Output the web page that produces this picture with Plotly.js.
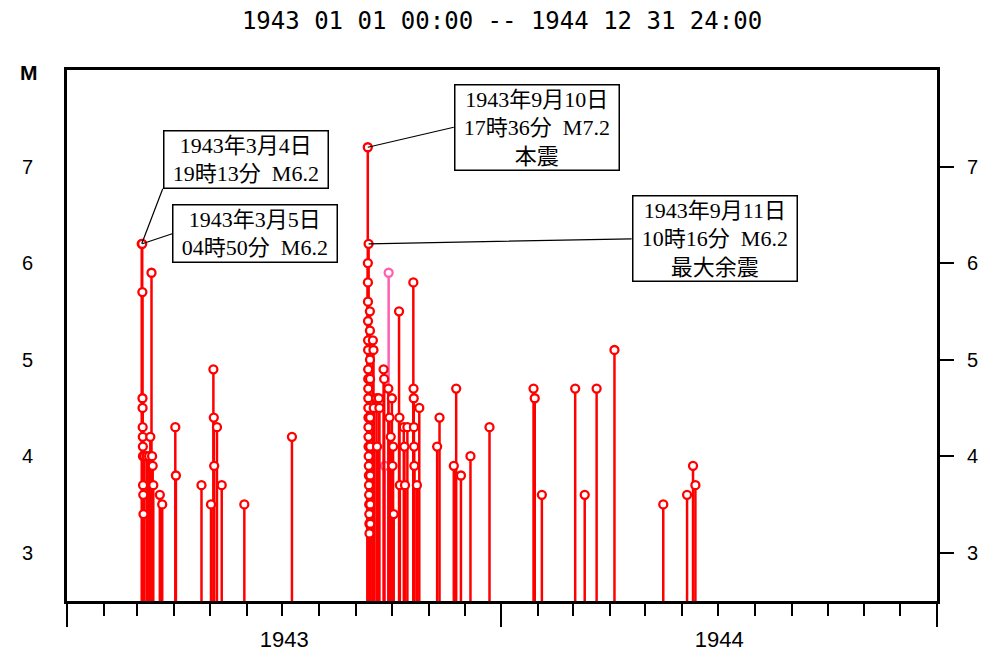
<!DOCTYPE html>
<html>
<head>
<meta charset="utf-8">
<script src="https://cdn.plot.ly/plotly-3.0.1.min.js"></script>
<style>html,body{margin:0;padding:0;background:#fff;}#chart{width:1005px;height:653px;}</style>
</head>
<body>
<div id="chart"></div>
<script>
// ---- data ----
const redDates = [
  '1943-03-04 19:13','1943-03-05 04:50','1943-03-05 08:00','1943-03-05 10:00','1943-03-05 12:00','1943-03-05 14:00',
  '1943-03-05 16:00','1943-03-05 18:00','1943-03-05 20:00','1943-03-05 22:00','1943-03-06 02:00','1943-03-06 06:00',
  '1943-03-07','1943-03-09','1943-03-11','1943-03-12','1943-03-13','1943-03-13 12:00','1943-03-14','1943-03-14 12:00',
  '1943-03-20','1943-03-22','1943-04-02','1943-04-02 12:00','1943-04-24','1943-05-02','1943-05-04','1943-05-04 08:00',
  '1943-05-04 16:00','1943-05-07','1943-05-11','1943-05-30','1943-07-09',
  '1943-09-10 17:36','1943-09-11 10:16',
  '1943-09-10 19:00','1943-09-10 20:00','1943-09-10 21:00','1943-09-10 22:00','1943-09-10 23:00','1943-09-11 00:00',
  '1943-09-11 01:00','1943-09-11 02:00','1943-09-11 03:00','1943-09-11 04:00','1943-09-11 05:00','1943-09-11 06:00',
  '1943-09-11 07:00','1943-09-11 08:00','1943-09-11 09:00','1943-09-11 12:00','1943-09-11 14:00','1943-09-11 16:00',
  '1943-09-11 18:00','1943-09-11 20:00','1943-09-11 22:00','1943-09-12 00:00','1943-09-12 02:00','1943-09-12 04:00',
  '1943-09-12 12:00','1943-09-12 13:00','1943-09-12 14:00','1943-09-12 15:00','1943-09-12 16:00','1943-09-12 17:00',
  '1943-09-12 18:00','1943-09-12 19:00','1943-09-12 20:00',
  '1943-09-15','1943-09-15 12:00','1943-09-15 18:00','1943-09-18','1943-09-18 12:00','1943-09-20','1943-09-20 12:00',
  '1943-09-24','1943-09-24 12:00','1943-09-28','1943-09-29','1943-09-30',
  '1943-10-01','1943-10-01 12:00','1943-10-02','1943-10-02 12:00','1943-10-07','1943-10-07 08:00','1943-10-07 16:00',
  '1943-10-11','1943-10-11 12:00','1943-10-12','1943-10-14','1943-10-19','1943-10-19 04:00','1943-10-19 08:00',
  '1943-10-19 12:00','1943-10-19 16:00','1943-10-19 20:00','1943-10-22','1943-10-24',
  '1943-11-08','1943-11-10','1943-11-22','1943-11-24','1943-11-28','1943-12-06','1943-12-22',
  '1944-01-28','1944-01-29','1944-02-04','1944-03-03','1944-03-11','1944-03-21','1944-04-05',
  '1944-05-16','1944-06-05','1944-06-10','1944-06-12'
];
const redMags = [
  6.2,6.2,5.7,4.6,4.5,4.3,
  4.2,4.1,4.0,3.7,3.6,3.4,
  4.0,4.0,4.0,4.2,5.9,4.0,3.9,3.7,
  3.6,3.5,4.3,3.8,3.7,3.5,4.9,4.4,
  3.9,4.3,3.7,3.5,4.2,
  7.2,6.2,
  6.0,5.8,5.6,5.4,5.2,5.1,
  4.9,4.8,4.7,4.6,4.5,4.4,
  4.3,4.2,4.1,4.0,3.9,3.8,
  3.7,3.6,3.5,3.4,3.3,3.2,
  5.5,5.3,5.0,4.8,4.4,4.1,
  3.8,3.5,3.3,
  5.2,5.1,4.5,4.6,4.1,4.6,4.5,
  4.9,4.8,4.7,4.4,4.2,
  4.6,3.9,4.1,3.4,5.5,4.4,3.7,
  4.3,4.1,3.7,4.3,5.8,4.7,4.6,
  4.3,4.1,3.9,3.7,4.5,
  4.1,4.4,3.9,4.7,3.8,4.0,4.3,
  4.7,4.6,3.6,4.7,3.6,4.7,5.1,
  3.5,3.6,3.9,3.7
];
const pinkDates = ['1943-09-12 06:00','1943-09-25','1943-09-28 06:00'];
const pinkMags = [3.8,3.9,5.9];

const annDates = ['1943-03-04 19:13','1943-03-05 04:50','1943-09-10 17:36','1943-09-11 10:16'];
const annMags = [6.2,6.2,7.2,6.2];
const annLines = [
  ['1943年3月4日','19時13分\u00a0 M6.2'],
  ['1943年3月5日','04時50分\u00a0 M6.2'],
  ['1943年9月10日','17時36分\u00a0 M7.2','本震'],
  ['1943年9月11日','10時16分\u00a0 M6.2','最大余震']
];
const yTicks = [3,4,5,6,7];
const yBase = 2.5;
const titleText = '1943 01 01 00:00 -- 1944 12 31 24:00';

// ---- styling (layout only) ----
const annOffsets = [[21,-55,'bottom'],[30,-10,'middle'],[86,-20,'middle'],[263,-5,'middle']];
const sidePad = '\u00a0\u200a';

function stemTrace(xs, ys, color){
  return {
    type:'scatter', mode:'markers', x:xs, y:ys, xaxis:'x', yaxis:'y',
    marker:{symbol:'circle', size:8, color:'white', line:{color:color, width:2.3}},
    error_y:{type:'data', symmetric:false, array:ys.map(()=>0), arrayminus:ys.map(v=>v-yBase),
             color:color, thickness:2.5, width:0},
    hoverinfo:'skip', cliponaxis:false
  };
}

const traces = [
  stemTrace(pinkDates, pinkMags, '#ff5fb0'),
  stemTrace(redDates, redMags, '#ff0000'),
  {type:'scatter', mode:'markers', x:[annDates[0]], y:[yTicks[0]], xaxis:'x', yaxis:'y2', marker:{opacity:0}, hoverinfo:'skip'}
];

const tickFont = {family:'Liberation Sans, Arial, sans-serif', size:20, color:'black'};
const annFont = {family:'Liberation Serif, "Noto Sans CJK JP", serif', size:22, color:'black'};

const layout = {
  width:1005, height:653,
  margin:{l:67, r:68, t:70, b:52},
  paper_bgcolor:'white', plot_bgcolor:'white',
  showlegend:false,
  title:{text:titleText, font:{family:'DejaVu Sans Mono, monospace', size:24, color:'black'},
         x:0.5, xref:'paper', xanchor:'center', y:1-21/653, yref:'container', yanchor:'middle'},
  xaxis:{type:'date', range:['1943-01-01','1945-01-01'], tick0:'1943-01-01', dtick:'M12',
         ticklabelmode:'period', tickformat:'%Y', ticks:'outside', ticklen:23, tickwidth:2, tickcolor:'black',
         minor:{dtick:'M1', tick0:'1943-01-01', ticks:'outside', ticklen:12, tickwidth:2, tickcolor:'black', showgrid:false},
         showgrid:false, zeroline:false, showline:true, linewidth:3, linecolor:'black', mirror:true, automargin:false,
         tickfont:{family:'Liberation Sans, Arial, sans-serif', size:22, color:'black'}, ticklabelstandoff:-6, fixedrange:true},
  yaxis:{range:[2.5,8], tickmode:'array', tickvals:yTicks, ticktext:yTicks.map(String), ticks:'', showgrid:false, zeroline:false,
         automargin:false, showline:true, linewidth:3, linecolor:'black', mirror:true, tickfont:tickFont,
         ticklabelstandoff:27, fixedrange:true},
  yaxis2:{overlaying:'y', anchor:'x', side:'right', range:[2.5,8], tickmode:'array', tickvals:yTicks, ticktext:yTicks.map(String),
          ticks:'outside', ticklen:16, tickwidth:2, tickcolor:'#000000', showticklabels:true, automargin:false,
          showgrid:false, zeroline:false, showline:false,
          tickfont:tickFont, ticklabelstandoff:9, fixedrange:true},
  annotations: annLines.map((lines,i)=>({
    x:annDates[i], y:annMags[i], xref:'x', yref:'y',
    text:lines.map(l=>sidePad+l+sidePad).join('<br>'),
    showarrow:true, arrowhead:0, arrowwidth:1.2,
    arrowcolor:'black', ax:annOffsets[i][0], ay:annOffsets[i][1], xanchor:'left', yanchor:annOffsets[i][2],
    standoff:0, startstandoff:0, align:'center', font:annFont, bgcolor:'white', bordercolor:'black',
    borderwidth:1.5, borderpad:1
  })).concat([{
    text:'<b>M</b>', xref:'paper', yref:'paper', x:(29-67)/870, y:(601-72)/531, xanchor:'center', yanchor:'middle',
    showarrow:false, font:{family:'Liberation Sans, Arial, sans-serif', size:21, color:'black'}
  }])
};

Plotly.newPlot('chart', traces, layout, {displayModeBar:false, staticPlot:true});
</script>
</body>
</html>
